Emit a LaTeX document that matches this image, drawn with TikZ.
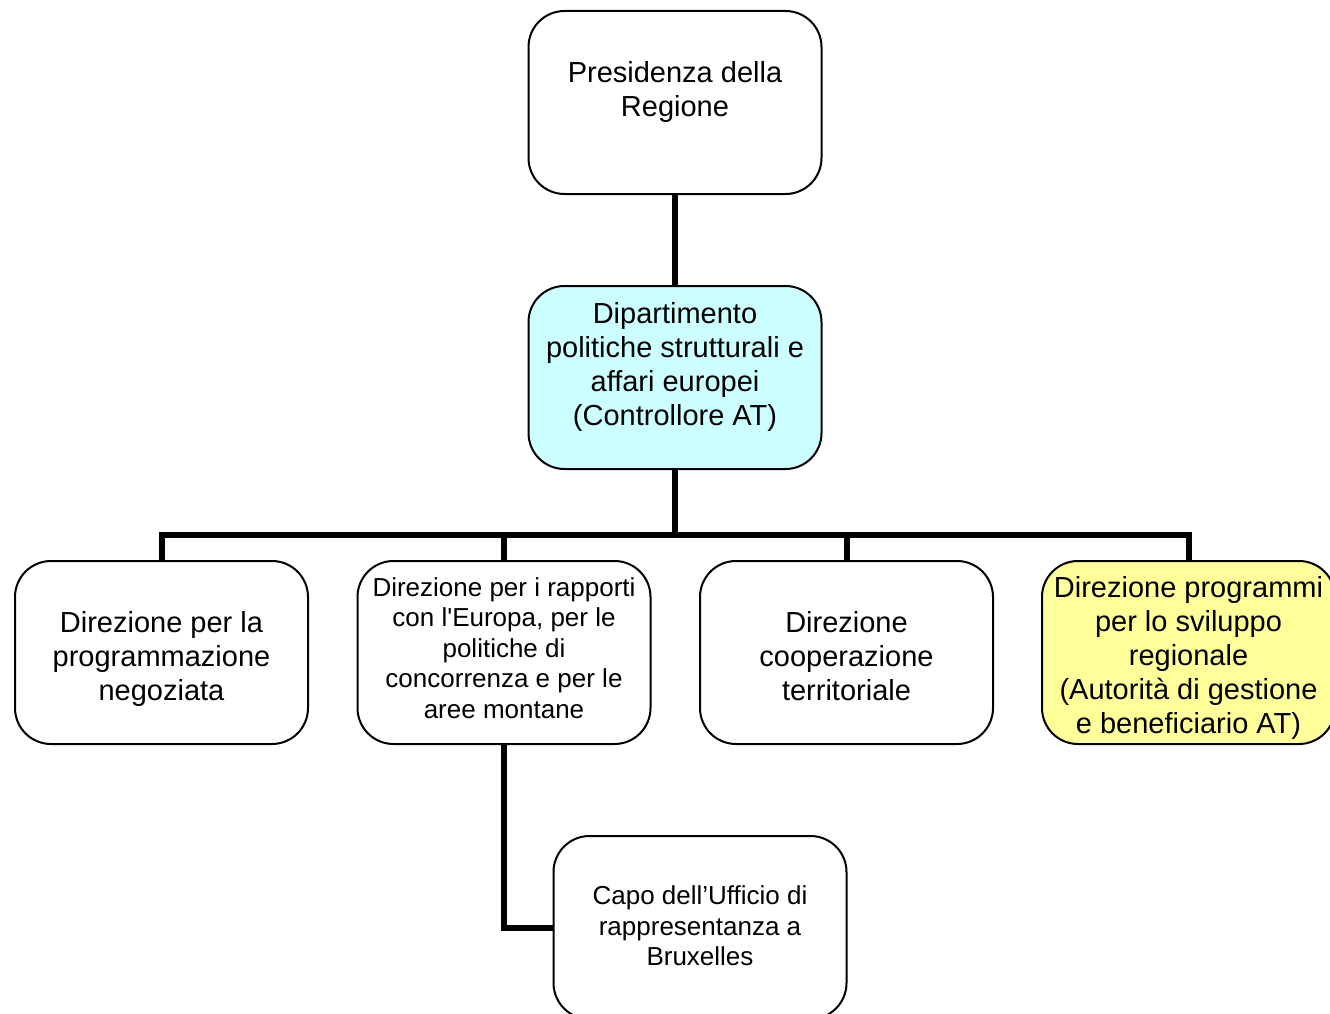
\documentclass[tikz,border=0pt]{standalone}
\usepackage{fontspec}
\setmainfont{Liberation Sans}
\definecolor{cyanfill}{HTML}{CCFFFF}
\definecolor{yellowfill}{HTML}{FFFF99}
\begin{document}
\begin{tikzpicture}[x=1pt,y=-1pt,
  box/.style={draw=black,line width=2pt,rounded corners=36pt,minimum width=293pt,minimum height=183pt,inner sep=0pt,fill=white},
  big/.style={align=center,font=\fontsize{29}{33.8}\selectfont,inner sep=0pt},
  small/.style={align=center,font=\fontsize{26}{30.6}\selectfont,inner sep=0pt},
  conn/.style={line width=6pt}]
\useasboundingbox (0,0) rectangle (1330,1014);
\clip (0,0) rectangle (1330,1014);
\coordinate (bar) at (675,536);
\node[box] (pres) at (675,102.5) {};
\node[box,fill=cyanfill] (dip) at (675,377.5) {};
\node[box] (d1) at (161.5,652.5) {};
\node[box] (d2) at (504,652.5) {};
\node[box] (d3) at (846.5,652.5) {};
\node[box,fill=yellowfill] (d4) at (1188.5,652.5) {};
\node[box] (capo) at (700,927.5) {};
\draw[conn] (pres.south) -- (dip.north);
\draw[conn] (dip.south) -- (bar);
\draw[conn] (d1.north) -- ++(0,-25) -| (d4.north);
\draw[conn] (d2.north) -- ++(0,-25);
\draw[conn] (d3.north) -- ++(0,-25);
\draw[conn] (d2.south) |- (capo.west);
\node[big] (presT) at (675,92) {Presidenza della\\Regione};
\node[big] (dipT) at (675,367) {Dipartimento\\politiche strutturali e\\affari europei\\(Controllore AT)};
\node[big] (d1T) at (161.5,659) {Direzione per la\\programmazione\\negoziata};
\node[small] (d2T) at (504,648) {Direzione per i rapporti\\con l\textquotesingle Europa, per le\\politiche di\\concorrenza e per le\\aree montane};
\node[big] (d3T) at (846.5,656) {Direzione\\cooperazione\\territoriale};
\node[big] (d4T) at (1188.5,658) {Direzione programmi\\per lo sviluppo\\regionale\\(Autorità di gestione\\e beneficiario AT)};
\node[small] (capoT) at (700,926) {Capo dell’Ufficio di\\rappresentanza a\\Bruxelles};
\end{tikzpicture}
\end{document}
